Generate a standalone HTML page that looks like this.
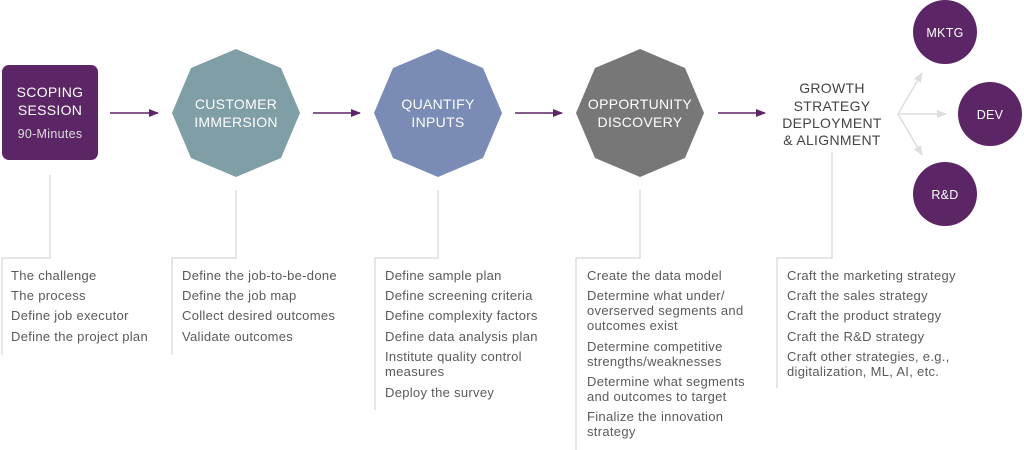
<!DOCTYPE html>
<html><head><meta charset="utf-8"><style>
body{margin:0;background:#fff;}
svg{display:block;}
.h{font-family:"Liberation Sans",sans-serif;font-size:14px;fill:#fff;text-anchor:middle;letter-spacing:0.3px;}
.l{font-family:"Liberation Sans",sans-serif;font-size:13px;fill:#5a5a5a;letter-spacing:0.3px;}
</style></head><body>
<svg width="1024" height="450" viewBox="0 0 1024 450" xmlns="http://www.w3.org/2000/svg">
<defs>
<marker id="a" markerWidth="10" markerHeight="10" refX="9" refY="5" orient="auto" markerUnits="userSpaceOnUse"><path d="M0,1 L10,5 L0,9 Z" fill="#5c2566"/></marker>
<marker id="g" markerWidth="10" markerHeight="10" refX="9" refY="5" orient="auto" markerUnits="userSpaceOnUse"><path d="M0,1 L10,5 L0,9 Z" fill="#ddd"/></marker>
</defs>
<rect x="2" y="65" width="96" height="95" rx="7" fill="#5c2566"/>
<text class="h" x="50" y="97">SCOPING</text>
<text class="h" x="50" y="115">SESSION</text>
<text class="h" x="50" y="138" style="font-size:12.5px;fill:#ddd">90-Minutes</text>

<polygon points="236,49 281,68 300,113 281,158 236,177 191,158 172,113 191,68" fill="#7f9ea6"/>
<text class="h" x="236" y="109">CUSTOMER</text>
<text class="h" x="236" y="127">IMMERSION</text>
<polygon points="438,49 483,68 502,113 483,158 438,177 393,158 374,113 393,68" fill="#7a8bb5"/>
<text class="h" x="438" y="109">QUANTIFY</text>
<text class="h" x="438" y="127">INPUTS</text>
<polygon points="640,49 685,68 704,113 685,158 640,177 595,158 576,113 595,68" fill="#777"/>
<text class="h" x="640" y="109">OPPORTUNITY</text>
<text class="h" x="640" y="127">DISCOVERY</text>

<g stroke="#5c2566" stroke-width="1.5" marker-end="url(#a)">
<line x1="110" y1="113" x2="158" y2="113"/>
<line x1="313" y1="113" x2="360" y2="113"/>
<line x1="515" y1="113" x2="562" y2="113"/>
<line x1="718" y1="113" x2="765" y2="113"/>
</g>
<g style="font-family:'Liberation Sans',sans-serif;font-size:14px;fill:#444;text-anchor:middle;letter-spacing:0.3px">
<text x="832" y="93">GROWTH</text>
<text x="832" y="111">STRATEGY</text>
<text x="832" y="128">DEPLOYMENT</text>
<text x="832" y="145">&amp; ALIGNMENT</text>
</g>
<g stroke="#ddd" stroke-width="1.5" marker-end="url(#g)">
<line x1="898" y1="114" x2="922" y2="73"/>
<line x1="898" y1="114" x2="946" y2="114"/>
<line x1="898" y1="114" x2="922" y2="155"/>
</g>
<circle cx="945" cy="32" r="32" fill="#5c2566"/>
<circle cx="990" cy="114" r="32" fill="#5c2566"/>
<circle cx="945" cy="194" r="32" fill="#5c2566"/>
<text class="h" x="945" y="37" style="font-size:12.5px">MKTG</text>
<text class="h" x="990" y="119" style="font-size:12.5px">DEV</text>
<text class="h" x="945" y="199" style="font-size:12.5px">R&amp;D</text>

<g stroke="#d6d6d6" stroke-width="1.2" fill="none">
<polyline points="50,175 50,258 2,258 2,355"/>
<polyline points="236,190 236,258 172,258 172,355"/>
<polyline points="438,190 438,258 375,258 375,410"/>
<polyline points="640,190 640,258 576,258 576,450"/>
<polyline points="832,152 832,258 777,258 777,388"/>
</g>
<g>
<text class="l" x="11" y="280">The challenge</text>
<text class="l" x="11" y="300">The process</text>
<text class="l" x="11" y="320">Define job executor</text>
<text class="l" x="11" y="341">Define the project plan</text>
<text class="l" x="182" y="280">Define the job-to-be-done</text>
<text class="l" x="182" y="300">Define the job map</text>
<text class="l" x="182" y="320">Collect desired outcomes</text>
<text class="l" x="182" y="341">Validate outcomes</text>
<text class="l" x="385" y="280">Define sample plan</text>
<text class="l" x="385" y="300">Define screening criteria</text>
<text class="l" x="385" y="320">Define complexity factors</text>
<text class="l" x="385" y="341">Define data analysis plan</text>
<text class="l" x="385" y="361">Institute quality control</text>
<text class="l" x="385" y="376">measures</text>
<text class="l" x="385" y="397">Deploy the survey</text>
<text class="l" x="587" y="280">Create the data model</text>
<text class="l" x="587" y="300">Determine what under/</text>
<text class="l" x="587" y="315">overserved segments and</text>
<text class="l" x="587" y="330">outcomes exist</text>
<text class="l" x="587" y="351">Determine competitive</text>
<text class="l" x="587" y="366">strengths/weaknesses</text>
<text class="l" x="587" y="386">Determine what segments</text>
<text class="l" x="587" y="401">and outcomes to target</text>
<text class="l" x="587" y="421">Finalize the innovation</text>
<text class="l" x="587" y="436">strategy</text>
<text class="l" x="787" y="280">Craft the marketing strategy</text>
<text class="l" x="787" y="300">Craft the sales strategy</text>
<text class="l" x="787" y="320">Craft the product strategy</text>
<text class="l" x="787" y="341">Craft the R&amp;D strategy</text>
<text class="l" x="787" y="361">Craft other strategies, e.g.,</text>
<text class="l" x="787" y="376">digitalization, ML, AI, etc.</text>
</g>
</svg>
</body></html>
